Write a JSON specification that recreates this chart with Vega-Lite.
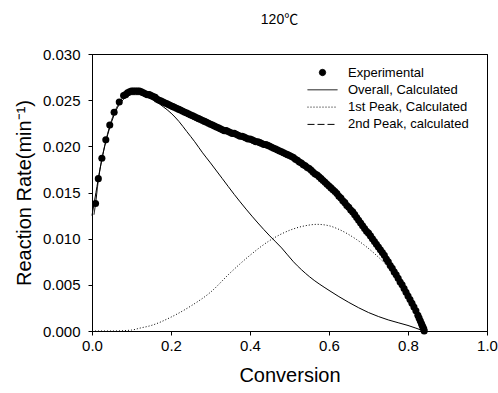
{
  "$schema": "https://vega.github.io/schema/vega-lite/v6.json",
  "width": 395,
  "height": 277,
  "autosize": "none",
  "padding": {"left": 92, "top": 54, "right": 11, "bottom": 62},
  "background": "white",
  "title": {"text": "120℃", "fontSize": 14, "fontWeight": "normal", "font": "Liberation Sans, Noto Sans CJK SC", "color": "black", "offset": 20, "dx": -10},
  "config": {
    "font": "Liberation Sans",
    "view": {"stroke": "black", "strokeWidth": 1},
    "axis": {"grid": false, "domainColor": "black", "tickColor": "black", "labelColor": "black", "titleColor": "black", "labelFontSize": 15, "titleFontSize": 20, "titleFontWeight": "normal", "tickSize": 4, "labelFont": "Liberation Sans", "titleFont": "Liberation Sans", "labelFlush": false}
  },
  "resolve": {"axis": {"x": "independent", "y": "independent"}},
  "datasets": {
    "exp": [
      {"x": 0.009, "y": 0.0138}, {"x": 0.016, "y": 0.0165}, {"x": 0.025, "y": 0.0187}, {"x": 0.035, "y": 0.0207},
      {"x": 0.045, "y": 0.0223}, {"x": 0.056, "y": 0.0237}, {"x": 0.069, "y": 0.0248}, {"x": 0.080, "y": 0.0255},
      {"x": 0.085, "y": 0.0256}, {"x": 0.090, "y": 0.0258}, {"x": 0.095, "y": 0.0259}, {"x": 0.100, "y": 0.0260},
      {"x": 0.105, "y": 0.0260}, {"x": 0.110, "y": 0.0260}, {"x": 0.115, "y": 0.0260}, {"x": 0.120, "y": 0.0260},
      {"x": 0.125, "y": 0.0259}, {"x": 0.130, "y": 0.0258}, {"x": 0.135, "y": 0.0257}, {"x": 0.140, "y": 0.0256},
      {"x": 0.145, "y": 0.0256}, {"x": 0.150, "y": 0.0255}, {"x": 0.155, "y": 0.0254}, {"x": 0.160, "y": 0.0253},
      {"x": 0.165, "y": 0.0251}, {"x": 0.170, "y": 0.0250}, {"x": 0.175, "y": 0.0249}, {"x": 0.180, "y": 0.0248},
      {"x": 0.185, "y": 0.0247}, {"x": 0.190, "y": 0.0246}, {"x": 0.195, "y": 0.0245}, {"x": 0.200, "y": 0.0244},
      {"x": 0.205, "y": 0.0243}, {"x": 0.210, "y": 0.0242}, {"x": 0.215, "y": 0.0241}, {"x": 0.220, "y": 0.0240},
      {"x": 0.225, "y": 0.0239}, {"x": 0.230, "y": 0.0238}, {"x": 0.235, "y": 0.0237}, {"x": 0.240, "y": 0.0236},
      {"x": 0.245, "y": 0.0235}, {"x": 0.250, "y": 0.0234}, {"x": 0.255, "y": 0.0233}, {"x": 0.260, "y": 0.0232},
      {"x": 0.265, "y": 0.0231}, {"x": 0.270, "y": 0.0230}, {"x": 0.275, "y": 0.0229}, {"x": 0.280, "y": 0.0228},
      {"x": 0.285, "y": 0.0227}, {"x": 0.290, "y": 0.0226}, {"x": 0.295, "y": 0.0225}, {"x": 0.300, "y": 0.0224},
      {"x": 0.305, "y": 0.0223}, {"x": 0.310, "y": 0.0222}, {"x": 0.315, "y": 0.0221}, {"x": 0.320, "y": 0.0220},
      {"x": 0.325, "y": 0.0219}, {"x": 0.330, "y": 0.0218}, {"x": 0.335, "y": 0.0217}, {"x": 0.340, "y": 0.0217},
      {"x": 0.345, "y": 0.0216}, {"x": 0.350, "y": 0.0215}, {"x": 0.355, "y": 0.0214}, {"x": 0.360, "y": 0.0214},
      {"x": 0.365, "y": 0.0213}, {"x": 0.370, "y": 0.0212}, {"x": 0.375, "y": 0.0211}, {"x": 0.380, "y": 0.0211},
      {"x": 0.385, "y": 0.0210}, {"x": 0.390, "y": 0.0209}, {"x": 0.395, "y": 0.0208}, {"x": 0.400, "y": 0.0208},
      {"x": 0.405, "y": 0.0207}, {"x": 0.410, "y": 0.0206}, {"x": 0.415, "y": 0.0205}, {"x": 0.420, "y": 0.0205},
      {"x": 0.425, "y": 0.0204}, {"x": 0.430, "y": 0.0203}, {"x": 0.435, "y": 0.0202}, {"x": 0.440, "y": 0.0202},
      {"x": 0.445, "y": 0.0201}, {"x": 0.450, "y": 0.0200}, {"x": 0.455, "y": 0.0199}, {"x": 0.460, "y": 0.0198},
      {"x": 0.465, "y": 0.0197}, {"x": 0.470, "y": 0.0196}, {"x": 0.475, "y": 0.0195}, {"x": 0.480, "y": 0.0194},
      {"x": 0.485, "y": 0.0193}, {"x": 0.490, "y": 0.0192}, {"x": 0.495, "y": 0.0191}, {"x": 0.500, "y": 0.0190},
      {"x": 0.505, "y": 0.0189}, {"x": 0.510, "y": 0.0188}, {"x": 0.515, "y": 0.0186}, {"x": 0.520, "y": 0.0185},
      {"x": 0.525, "y": 0.0183}, {"x": 0.530, "y": 0.0182}, {"x": 0.535, "y": 0.0180}, {"x": 0.540, "y": 0.0179},
      {"x": 0.545, "y": 0.0177}, {"x": 0.550, "y": 0.0176}, {"x": 0.555, "y": 0.0174}, {"x": 0.560, "y": 0.0172},
      {"x": 0.565, "y": 0.0170}, {"x": 0.570, "y": 0.0169}, {"x": 0.575, "y": 0.0167}, {"x": 0.580, "y": 0.0165},
      {"x": 0.585, "y": 0.0163}, {"x": 0.590, "y": 0.0161}, {"x": 0.595, "y": 0.0159}, {"x": 0.600, "y": 0.0157},
      {"x": 0.605, "y": 0.0155}, {"x": 0.610, "y": 0.0153}, {"x": 0.615, "y": 0.0151}, {"x": 0.620, "y": 0.0149},
      {"x": 0.625, "y": 0.0146}, {"x": 0.630, "y": 0.0144}, {"x": 0.635, "y": 0.0141}, {"x": 0.640, "y": 0.0139},
      {"x": 0.645, "y": 0.0136}, {"x": 0.650, "y": 0.0134}, {"x": 0.655, "y": 0.0131}, {"x": 0.660, "y": 0.0129},
      {"x": 0.665, "y": 0.0126}, {"x": 0.670, "y": 0.0123}, {"x": 0.675, "y": 0.0120}, {"x": 0.680, "y": 0.0117},
      {"x": 0.685, "y": 0.0114}, {"x": 0.690, "y": 0.0111}, {"x": 0.695, "y": 0.0108}, {"x": 0.700, "y": 0.0106},
      {"x": 0.705, "y": 0.0103}, {"x": 0.710, "y": 0.0100}, {"x": 0.715, "y": 0.0097}, {"x": 0.720, "y": 0.0094},
      {"x": 0.725, "y": 0.0091}, {"x": 0.730, "y": 0.0088}, {"x": 0.735, "y": 0.0085}, {"x": 0.740, "y": 0.0082},
      {"x": 0.745, "y": 0.0078}, {"x": 0.750, "y": 0.0075}, {"x": 0.755, "y": 0.0071}, {"x": 0.760, "y": 0.0068},
      {"x": 0.765, "y": 0.0064}, {"x": 0.770, "y": 0.0061}, {"x": 0.775, "y": 0.0057}, {"x": 0.780, "y": 0.0053},
      {"x": 0.785, "y": 0.0050}, {"x": 0.790, "y": 0.0046}, {"x": 0.795, "y": 0.0042}, {"x": 0.800, "y": 0.0038},
      {"x": 0.805, "y": 0.0034}, {"x": 0.810, "y": 0.0030}, {"x": 0.815, "y": 0.0026}, {"x": 0.820, "y": 0.0022},
      {"x": 0.825, "y": 0.0017}, {"x": 0.828, "y": 0.0014}, {"x": 0.831, "y": 0.0011}, {"x": 0.834, "y": 0.0008},
      {"x": 0.836, "y": 0.0006}, {"x": 0.838, "y": 0.0004}, {"x": 0.840, "y": 0.0002}, {"x": 0.841, "y": 0.0000}
    ],
    "calc": [
      {"series": "Overall, Calculated", "x": 0.005, "y": 0.0126}, {"series": "Overall, Calculated", "x": 0.009, "y": 0.0138},
      {"series": "Overall, Calculated", "x": 0.016, "y": 0.0163}, {"series": "Overall, Calculated", "x": 0.025, "y": 0.0186},
      {"series": "Overall, Calculated", "x": 0.035, "y": 0.0206}, {"series": "Overall, Calculated", "x": 0.045, "y": 0.0222},
      {"series": "Overall, Calculated", "x": 0.056, "y": 0.0236}, {"series": "Overall, Calculated", "x": 0.069, "y": 0.0247},
      {"series": "Overall, Calculated", "x": 0.081, "y": 0.0254}, {"series": "Overall, Calculated", "x": 0.100, "y": 0.0258},
      {"series": "Overall, Calculated", "x": 0.120, "y": 0.0259}, {"series": "Overall, Calculated", "x": 0.140, "y": 0.0256},
      {"series": "Overall, Calculated", "x": 0.160, "y": 0.0252}, {"series": "Overall, Calculated", "x": 0.200, "y": 0.0243},
      {"series": "Overall, Calculated", "x": 0.250, "y": 0.0233}, {"series": "Overall, Calculated", "x": 0.300, "y": 0.0224},
      {"series": "Overall, Calculated", "x": 0.350, "y": 0.0215}, {"series": "Overall, Calculated", "x": 0.400, "y": 0.0208},
      {"series": "Overall, Calculated", "x": 0.450, "y": 0.0200}, {"series": "Overall, Calculated", "x": 0.500, "y": 0.0190},
      {"series": "Overall, Calculated", "x": 0.550, "y": 0.0176}, {"series": "Overall, Calculated", "x": 0.600, "y": 0.0157},
      {"series": "Overall, Calculated", "x": 0.650, "y": 0.0134}, {"series": "Overall, Calculated", "x": 0.700, "y": 0.0106},
      {"series": "Overall, Calculated", "x": 0.750, "y": 0.0075}, {"series": "Overall, Calculated", "x": 0.800, "y": 0.0038},
      {"series": "Overall, Calculated", "x": 0.820, "y": 0.0022}, {"series": "Overall, Calculated", "x": 0.840, "y": 0.0001},
      {"series": "1st Peak, Calculated", "x": 0.000, "y": 0.0000}, {"series": "1st Peak, Calculated", "x": 0.050, "y": 0.0000},
      {"series": "1st Peak, Calculated", "x": 0.100, "y": 0.0001}, {"series": "1st Peak, Calculated", "x": 0.120, "y": 0.0003},
      {"series": "1st Peak, Calculated", "x": 0.150, "y": 0.0006}, {"series": "1st Peak, Calculated", "x": 0.200, "y": 0.0015},
      {"series": "1st Peak, Calculated", "x": 0.250, "y": 0.0027}, {"series": "1st Peak, Calculated", "x": 0.300, "y": 0.0042},
      {"series": "1st Peak, Calculated", "x": 0.350, "y": 0.0063}, {"series": "1st Peak, Calculated", "x": 0.400, "y": 0.0082},
      {"series": "1st Peak, Calculated", "x": 0.450, "y": 0.0098}, {"series": "1st Peak, Calculated", "x": 0.500, "y": 0.0109},
      {"series": "1st Peak, Calculated", "x": 0.540, "y": 0.0114}, {"series": "1st Peak, Calculated", "x": 0.570, "y": 0.01155},
      {"series": "1st Peak, Calculated", "x": 0.600, "y": 0.0114}, {"series": "1st Peak, Calculated", "x": 0.620, "y": 0.0111},
      {"series": "1st Peak, Calculated", "x": 0.670, "y": 0.0099}, {"series": "1st Peak, Calculated", "x": 0.720, "y": 0.0082},
      {"series": "1st Peak, Calculated", "x": 0.770, "y": 0.0060}, {"series": "1st Peak, Calculated", "x": 0.800, "y": 0.0043},
      {"series": "1st Peak, Calculated", "x": 0.820, "y": 0.0027}, {"series": "1st Peak, Calculated", "x": 0.840, "y": 0.0000}
    ],
    "second": [
      {"x": 0.000, "y": 0.0125}, {"x": 0.010, "y": 0.0150}, {"x": 0.020, "y": 0.0175}, {"x": 0.030, "y": 0.0196},
      {"x": 0.040, "y": 0.0213}, {"x": 0.050, "y": 0.0227}, {"x": 0.060, "y": 0.0238}, {"x": 0.070, "y": 0.0246},
      {"x": 0.080, "y": 0.0251}, {"x": 0.090, "y": 0.0254}, {"x": 0.100, "y": 0.0256}, {"x": 0.110, "y": 0.0256},
      {"x": 0.120, "y": 0.0256}, {"x": 0.140, "y": 0.0253}, {"x": 0.160, "y": 0.0249}, {"x": 0.180, "y": 0.0243},
      {"x": 0.200, "y": 0.0236}, {"x": 0.220, "y": 0.0227}, {"x": 0.240, "y": 0.0216}, {"x": 0.260, "y": 0.0205},
      {"x": 0.280, "y": 0.0193}, {"x": 0.300, "y": 0.0182}, {"x": 0.330, "y": 0.0165}, {"x": 0.360, "y": 0.0148},
      {"x": 0.390, "y": 0.0132}, {"x": 0.420, "y": 0.0117}, {"x": 0.450, "y": 0.0103}, {"x": 0.480, "y": 0.0090},
      {"x": 0.510, "y": 0.0075}, {"x": 0.550, "y": 0.0059}, {"x": 0.600, "y": 0.0044}, {"x": 0.650, "y": 0.0031},
      {"x": 0.700, "y": 0.0020}, {"x": 0.750, "y": 0.0012}, {"x": 0.800, "y": 0.0006}, {"x": 0.840, "y": 0.0000}
    ]
  },
  "layer": [
    {
      "data": {"name": "second"},
      "mark": {"type": "line", "color": "black", "strokeWidth": 1, "interpolate": "monotone"},
      "encoding": {
        "x": {"field": "x", "type": "quantitative", "scale": {"domain": [0, 1], "nice": false},
              "axis": {"title": "Conversion", "values": [0, 0.2, 0.4, 0.6, 0.8, 1.0], "format": ".1f", "labelPadding": 3, "titlePadding": 12}},
        "y": {"field": "y", "type": "quantitative", "scale": {"domain": [0, 0.03], "nice": false},
              "axis": {"title": "Reaction Rate(min⁻¹)", "values": [0, 0.005, 0.01, 0.015, 0.02, 0.025, 0.03], "format": ".3f", "labelPadding": 8, "titlePadding": 8}}
      }
    },
    {
      "data": {"name": "calc"},
      "mark": {"type": "line", "color": "black", "strokeWidth": 1, "interpolate": "monotone"},
      "encoding": {
        "x": {"field": "x", "type": "quantitative", "axis": null},
        "y": {"field": "y", "type": "quantitative", "axis": null},
        "strokeDash": {
          "field": "series", "type": "nominal",
          "scale": {"domain": ["Experimental", "Overall, Calculated", "1st Peak, Calculated", "2nd Peak, calculated"],
                    "range": [[1, 0], [1, 0], [1, 2], [7, 3]]},
          "legend": {
            "title": null, "orient": "none", "legendX": 215, "legendY": 12,
            "labelFontSize": 13, "labelColor": "black", "labelLimit": 300, "labelOffset": 10,
            "symbolSize": 900, "symbolStrokeWidth": 1, "symbolStrokeColor": "black", "rowPadding": 3.3, "padding": 0, "clipHeight": 13,
            "encode": {
              "symbols": {"update": {
                "shape": {"signal": "datum.value === 'Experimental' ? 'circle' : 'stroke'"},
                "size": {"signal": "datum.value === 'Experimental' ? 40 : 900"},
                "fill": {"signal": "datum.value === 'Experimental' ? 'black' : 'transparent'"},
                "stroke": {"value": "black"}
              }}
            }
          }
        }
      }
    },
    {
      "data": {"name": "exp"},
      "mark": {"type": "point", "shape": "circle", "filled": true, "color": "black", "size": 50, "opacity": 1},
      "encoding": {
        "x": {"field": "x", "type": "quantitative", "axis": {"orient": "top", "labels": false, "ticks": false, "title": null}},
        "y": {"field": "y", "type": "quantitative", "axis": {"orient": "right", "labels": false, "ticks": false, "title": null}}
      }
    }
  ]
}
